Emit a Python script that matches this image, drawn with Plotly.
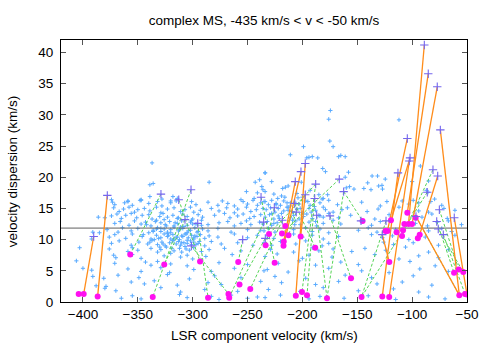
import plotly.graph_objects as go

# all fitted components (background cloud), km/s
cloud_v = [
    -373, -371, -362, -359, -355, -347, -340, -332, -328, -320, -315, -297, -286, -277, -273, -268, -262, -254, -250, -245, -241, -238, -234,
    -372, -367, -363, -358, -353, -350, -344, -339, -333, -329, -323, -317, -311, -307, -302, -299, -293, -283, -276, -269, -262, -259, -251, -247, -242, -236,
    -374, -369, -365, -361, -356, -351, -346, -340, -337, -330, -327, -323, -318, -314, -309, -305, -300, -295, -291, -280, -271, -266, -259, -254, -248, -244, -238,
    -371, -366, -358, -353, -347, -343, -338, -333, -329, -325, -321, -317, -314, -310, -305, -302, -297, -292, -286, -276, -268, -262, -256, -251, -247, -239,
    -378, -368, -364, -356, -350, -340, -336, -332, -329, -326, -323, -320, -317, -313, -309, -305, -302, -298, -295, -291, -286, -277, -265, -250, -238,
    -376, -371, -361, -355, -346, -338, -333, -329, -326, -323, -320, -318, -315, -312, -310, -307, -304, -301, -299, -296, -293, -289, -285, -277, -262, -250, -241,
    -374, -367, -356, -349, -341, -337, -332, -328, -325, -321, -318, -315, -313, -311, -308, -305, -301, -299, -295, -289, -283, -274, -259, -245,
    -376, -359, -355, -350, -338, -332, -329, -324, -317, -312, -310, -306, -303, -299, -292, -285, -271, -256,
    -372, -370, -355, -347, -326, -320, -311, -305, -300, -288, -264,
    -406, -371, -343, -338, -332, -320, -305, -276, -250,
    -400, -392, -359, -347, -329, -321, -299, -283, -262, -235,
    -391, -381, -368, -349, -323, -303, -280, -256,
    -388, -356, -344, -335, -314, -286, -274, -238,
    -380, -370, -329, -311, -289, -259,
    -365, -355, -347, -312, -305, -283, -276, -265, -250, -241,
    -337, -339, -336, -339, -374, -359, -348, -347, -328, -318, -320, -314, -301, -285, -256,
    -251, -243, -239, -237, -236, -234, -244, -241, -403, -392, -391, -385, -386, -380, -379,
    -345, -342, -339, -336, -334, -331, -329, -327, -324, -322, -320, -318, -316, -314, -312, -310, -308, -306, -304, -302,
    -300, -298, -296, -294, -292, -330, -326, -319, -313, -307, -301, -297, -335, -323, -311, -299, -317, -305, -333, -309,
    -235, -231, -228, -224, -220, -217, -214, -211, -207, -203, -197, -193, -184, -176, -168, -146, -129, -109, -103, -94, -83, -73,
    -233, -229, -225, -222, -217, -213, -209, -205, -200, -194, -188, -181, -172, -164, -159, -141, -131, -112, -94, -85, -71, -61,
    -234, -230, -226, -222, -219, -211, -208, -199, -191, -184, -176, -167, -156, -134, -121, -91, -82, -68,
    -236, -232, -228, -223, -206, -202, -194, -187, -181, -172, -165, -137, -129, -97, -86, -77, -67, -55,
    -235, -231, -225, -208, -197, -191, -184, -176, -149, -140, -132, -115, -85, -73, -64,
    -232, -226, -208, -200, -191, -181, -167, -137, -127, -118, -103, -88, -61,
    -235, -228, -220, -206, -197, -182, -176, -126, -117, -99, -76,
    -229, -208, -191, -185, -172, -155, -143, -124, -106, -85, -67,
    -234, -223, -200, -194, -173, -134, -112, -94, -76,
    -222, -203, -188, -165, -149, -102, -79,
    -232, -213, -176, -146, -121, -93, -67,
    -225, -197, -161, -137, -99,
    -219, -188, -167, -132, -109, -82,
    -231, -202, -181, -149, -117, -94,
    -234, -220, -194, -184, -162, -140, -115, -85, -70,
    -174.5, -176, -175, -172, -199, -211, -196, -194, -191, -186, -167, -165, -161, -181.5, -179, -234, -228, -234, -226, -222.5,
    -218, -215.5, -213, -204, -201, -200, -185, -181, -177, -161, -158, -157, -160, -153, -144, -140.5, -137.5, -136.5, -131.5, -130.5,
    -127.5, -127, -124.5, -123, -112, -92.5, -100, -99, -85, -87, -85.5, -79.5,
    -228, -224, -221, -216, -213, -209, -205, -202, -199, -195, -192, -189, -185, -182, -179, -226, -219, -211, -203, -196,
    -188, -181, -214, -207, -193,
]
cloud_sigma = [
    16.0, 15.6, 15.9, 16.2, 15.5, 16.3, 15.8, 16.1, 15.4, 15.9, 16.2, 15.6, 16.0, 15.5, 16.2, 15.8, 15.4, 16.1, 15.7, 16.3, 15.5, 15.9, 16.1,
    15.1, 14.5, 14.9, 15.2, 14.4, 14.8, 15.0, 14.6, 15.2, 14.3, 14.9, 15.1, 14.5, 14.8, 15.2, 14.4, 14.7, 15.0, 14.6, 15.1, 14.3, 14.9, 15.2, 14.5, 14.8, 15.0,
    13.8, 14.1, 13.4, 13.9, 14.2, 13.5, 13.9, 14.0, 13.3, 13.7, 14.2, 13.6, 13.9, 13.4, 14.1, 13.7, 13.3, 14.0, 13.6, 13.9, 14.2, 13.5, 13.8, 14.1, 13.4, 13.7, 14.0,
    12.6, 12.9, 12.3, 13.0, 12.5, 12.8, 12.2, 13.1, 12.7, 12.4, 12.9, 12.2, 12.6, 13.0, 12.3, 12.8, 12.5, 13.1, 12.4, 12.7, 12.9, 12.2, 12.6, 13.0, 12.4, 12.8,
    11.6, 11.2, 11.9, 11.4, 11.8, 11.1, 11.5, 11.9, 11.3, 11.7, 11.2, 11.6, 12.0, 11.4, 11.8, 11.1, 11.5, 11.9, 11.3, 11.7, 11.4, 11.8, 11.2, 11.6, 11.5,
    10.4, 10.8, 10.2, 10.9, 10.5, 10.1, 10.7, 10.3, 10.9, 10.5, 10.1, 10.8, 10.4, 10.0, 10.6, 10.9, 10.3, 10.7, 10.1, 10.5, 10.8, 10.2, 10.6, 10.4, 10.9, 10.3, 10.7,
    9.4, 9.8, 9.1, 9.6, 9.3, 9.9, 9.2, 9.6, 9.0, 9.5, 9.8, 9.3, 9.7, 9.1, 9.5, 9.9, 9.2, 9.6, 9.4, 9.0, 9.7, 9.3, 9.5, 9.1,
    8.5, 8.1, 8.7, 8.3, 8.6, 8.0, 8.4, 8.8, 8.2, 8.6, 8.0, 8.5, 8.3, 8.7, 8.1, 8.4, 8.6, 8.2,
    7.5, 7.1, 7.6, 7.0, 7.4, 7.8, 7.2, 7.5, 6.9, 7.3, 7.6,
    6.6, 6.2, 6.4, 5.9, 6.5, 6.1, 5.8, 6.3, 6.0,
    5.4, 5.1, 5.3, 4.9, 5.5, 4.7, 5.2, 4.9, 5.4, 5.0,
    4.1, 3.8, 4.3, 3.9, 4.4, 3.7, 4.2, 3.9,
    2.6, 3.2, 2.9, 3.4, 2.7, 3.1, 2.8, 3.3,
    2.2, 1.8, 2.3, 1.6, 2.0, 1.7,
    0.6, 1.0, 0.5, 1.2, 0.7, 0.9, 0.4, 1.1, 0.6, 0.8,
    22.3, 18.8, 19.0, 16.9, 16.4, 16.1, 16.3, 16.4, 16.5, 16.9, 16.2, 16.6, 16.1, 19.2, 16.4,
    17.7, 19.2, 19.6, 18.5, 18.0, 20.7, 16.6, 17.5, 8.7, 10.1, 11.2, 11.1, 13.6, 13.5, 2.5,
    10.8, 12.4, 9.6, 11.3, 12.9, 10.2, 11.8, 9.3, 12.2, 10.7, 11.1, 9.9, 12.7, 10.4, 11.6, 9.5, 12.1, 10.9, 11.4, 9.8,
    12.5, 10.6, 11.2, 9.7, 12.3, 8.8, 13.2, 8.6, 13.5, 8.9, 13.1, 9.2, 10.0, 11.0, 12.0, 10.3, 10.1, 9.4, 11.7, 10.5,
    16.1, 15.6, 16.3, 15.8, 15.5, 16.2, 15.9, 15.4, 16.0, 15.7, 16.2, 15.5, 15.9, 16.3, 15.6, 16.0, 15.4, 16.2, 15.7, 15.9, 16.1, 15.5,
    14.8, 15.1, 14.4, 15.0, 14.6, 15.2, 14.5, 14.9, 14.3, 15.0, 14.7, 15.2, 14.4, 14.8, 15.1, 14.5, 14.9, 15.2, 14.6, 14.4, 15.0, 14.7,
    13.6, 14.0, 13.3, 13.8, 14.2, 13.5, 13.9, 14.1, 13.4, 13.8, 14.2, 13.5, 13.9, 13.3, 14.0, 13.6, 14.1, 13.4,
    12.5, 12.9, 12.3, 12.7, 13.0, 12.4, 12.8, 12.2, 12.6, 13.1, 12.5, 12.3, 12.9, 12.6, 12.2, 12.8, 13.0, 12.4,
    11.4, 11.8, 11.2, 11.6, 11.9, 11.3, 11.7, 11.1, 11.5, 11.9, 11.2, 11.6, 11.4, 11.8, 11.3,
    10.6, 10.2, 10.9, 10.4, 10.7, 10.1, 10.5, 10.8, 10.3, 10.6, 10.0, 10.4, 10.7,
    9.5, 9.1, 9.7, 9.3, 9.8, 9.0, 9.4, 9.6, 9.2, 9.5, 9.1,
    8.4, 8.0, 8.7, 8.2, 8.5, 8.1, 8.6, 8.3, 8.8, 8.0, 8.4,
    7.3, 7.7, 7.0, 7.5, 7.2, 7.6, 6.9, 7.4, 7.1,
    6.2, 6.6, 5.9, 6.4, 6.0, 6.5, 5.8,
    5.2, 4.8, 5.4, 5.0, 4.7, 5.3, 4.9,
    4.1, 3.8, 4.3, 3.9, 4.2,
    3.1, 2.8, 3.3, 2.9, 3.2, 2.7,
    2.0, 1.7, 2.3, 1.8, 2.1, 1.6,
    0.7, 1.1, 0.5, 0.9, 0.6, 1.0, 0.4, 0.8, 0.5,
    30.7, 29.3, 25.8, 24.9, 24.9, 23.6, 23.1, 23.2, 23.3, 23.1, 23.3, 23.5, 23.3, 21.4, 20.9, 20.7, 19.3, 17.7, 17.3, 16.6,
    18.2, 18.4, 18.6, 16.7, 19.2, 16.8, 17.2, 16.6, 17.2, 20.0, 20.8, 18.5, 18.3, 18.1, 18.2, 19.1, 18.0, 20.2, 20.2, 18.6,
    18.7, 18.1, 19.7, 16.1, 29.2, 21.8, 19.3, 16.3, 19.4, 17.9, 17.6, 16.5,
    14.2, 15.6, 13.4, 16.8, 14.7, 13.1, 17.4, 15.0, 13.7, 16.1, 14.4, 15.3, 13.9, 16.5, 14.8, 12.6, 17.0, 15.9, 13.3, 14.1,
    12.9, 13.6, 15.2, 12.4, 17.9,
]

# components of the complex MS (purple crosses)
comp_v = [
    -377.8, -390.2, -328.9, -312.7, -301.5, -307.0, -295.4, -301.2, -237.7, -254.4,
    -235.3, -197.4, -201.3, -206.5, -187.9, -197.4, -188.8, -207.0, -225.6, -218.3,
    -205.6, -187.0, -174.9, -166.4, -162.4, -233.8, -88.9, -85.3, -77.1, -74.3,
    -104.4, -101.9, -102.6, -112.9, -81.0, -76.7, -86.2, -75.2, -61.6, -77.6,
    -76.2, -71.6, -127.2, -146.6, -123.8, -96.5,
]
comp_sigma = [
    17.1, 10.5, 17.3, 16.4, 18.0, 13.2, 12.6, 9.0, 16.8, 10.0,
    12.8, 22.2, 20.9, 19.3, 18.9, 17.2, 16.6, 15.8, 15.1, 13.1,
    14.4, 13.9, 13.8, 19.7, 17.7, 10.2, 41.2, 36.6, 34.5, 27.6,
    26.2, 23.1, 22.6, 20.7, 21.2, 20.2, 17.6, 14.8, 13.5, 12.9,
    11.7, 10.8, 10.8, 13.0, 13.0, 13.7,
]

# peaks of the complex MS (magenta dots)
peak_v = [
    -403.9, -399.3, -386.6, -356.9, -325.9, -336.4, -293.3, -286.0, -267.4, -266.7,
    -258.5, -257.3, -247.5, -233.5, -225.3, -230.4, -218.6, -215.6, -212.7, -217.0,
    -217.2, -201.6, -188.3, -206.0, -200.4, -195.8, -177.6, -155.7, -145.2, -146.1,
    -127.2, -120.9, -124.3, -122.5, -120.8, -119.3, -114.2, -109.2, -108.3, -107.1,
    -104.4, -103.3, -100.1, -96.8, -93.1, -94.8, -61.8, -57.5, -53.4, -57.0,
    -51.8, -50.0,
]
peak_sigma = [
    1.3, 1.3, 0.9, 7.6, 6.0, 0.8, 6.5, 0.7, 1.3, 0.7,
    6.4, 2.8, 2.1, 9.1, 6.3, 10.9, 11.0, 12.2, 10.7, 9.7,
    9.0, 10.5, 8.7, 1.0, 1.6, 1.1, 0.6, 3.8, 13.0, 0.8,
    0.9, 0.8, 11.4, 11.4, 6.4, 13.1, 11.2, 10.6, 11.5, 12.5,
    14.3, 12.5, 12.5, 13.5, 10.8, 10.2, 4.7, 5.2, 4.8, 1.1,
    1.3, 1.2,
]

# (component index, peak index)
orange_links = [
    (0, 2), (1, 1), (11, 23), (12, 20), (13, 19), (15, 21), (26, 41), (27, 40),
    (28, 42), (29, 49), (30, 33), (31, 35), (32, 31), (33, 30), (42, 34), (35, 44),
    (38, 51), (45, 49),
]
green_links = [
    (2, 3), (4, 5), (5, 4), (3, 6), (6, 7), (7, 8), (10, 9), (25, 11), (9, 10),
    (19, 12), (8, 14), (17, 22), (18, 13), (21, 26), (24, 26), (22, 27), (23, 16),
    (14, 24), (16, 25), (20, 18), (24, 28), (44, 29), (36, 29), (37, 47), (39, 46),
    (40, 48), (41, 50), (34, 37), (15, 17), (14, 15), (45, 49),
]

mean_sigma = 11.85
x_ticks = [-400, -350, -300, -250, -200, -150, -100, -50]
y_ticks = [0, 5, 10, 15, 20, 25, 30, 35, 40]

FONT = "Liberation Sans, Arial, sans-serif"


def link_xy(links):
    xs, ys = [], []
    for ci, pi in links:
        xs += [comp_v[ci], peak_v[pi], None]
        ys += [comp_sigma[ci], peak_sigma[pi], None]
    return xs, ys


fig = go.Figure()

fig.add_trace(
    go.Scatter(
        x=cloud_v,
        y=cloud_sigma,
        mode="markers",
        marker=dict(symbol="cross-thin", size=3, line=dict(width=1, color="#5aabff")),
        hoverinfo="skip",
    )
)

fig.add_trace(
    go.Scatter(
        x=[-420, -50],
        y=[mean_sigma, mean_sigma],
        mode="lines",
        line=dict(color="#606060", width=1),
        hoverinfo="skip",
    )
)

gx, gy = link_xy(green_links)
fig.add_trace(
    go.Scatter(
        x=gx,
        y=gy,
        mode="lines",
        line=dict(color="#55d455", width=1, dash="3px,2px"),
        hoverinfo="skip",
    )
)

ox, oy = link_xy(orange_links)
fig.add_trace(
    go.Scatter(
        x=ox,
        y=oy,
        mode="lines",
        line=dict(color="#ff8c1a", width=1.3),
        hoverinfo="skip",
    )
)

fig.add_trace(
    go.Scatter(
        x=peak_v,
        y=peak_sigma,
        mode="markers",
        marker=dict(symbol="circle", size=6, color="#ff10f0"),
    )
)

fig.add_trace(
    go.Scatter(
        x=comp_v,
        y=comp_sigma,
        mode="markers",
        marker=dict(symbol="cross-thin", size=6, line=dict(width=1.1, color="#7466ee")),
    )
)

fig.update_layout(
    width=491,
    height=343,
    margin=dict(l=61, r=24, t=40, b=41),
    plot_bgcolor="white",
    paper_bgcolor="white",
    showlegend=False,
    font=dict(family=FONT, size=13.5, color="black"),
    title=dict(
        text="complex MS, -435 km/s < v < -50 km/s",
        x=0.5,
        xref="paper",
        xanchor="center",
        y=1 - 20.5 / 343,
        yref="container",
        yanchor="middle",
        font=dict(size=13.5),
    ),
    annotations=[
        dict(
            text="LSR component velocity (km/s)",
            x=0.5, y=-0.126, xref="paper", yref="paper",
            xanchor="center", yanchor="middle", showarrow=False,
        ),
        dict(
            text="velocity dispersion (km/s)",
            x=-0.12, y=0.5, xref="paper", yref="paper",
            xanchor="center", yanchor="middle", textangle=-90, showarrow=False,
        ),
    ],
)

fig.update_xaxes(
    range=[-420, -50],
    tickvals=x_ticks,
    ticks="inside",
    ticklen=5,
    tickcolor="#555555",
    showline=True,
    linecolor="black",
    linewidth=1,
    mirror="ticks",
    showgrid=False,
    zeroline=False,
    automargin=False,
)

fig.update_yaxes(
    range=[0, 42],
    tickvals=y_ticks,
    ticks="inside",
    ticklen=5,
    tickcolor="#555555",
    showline=True,
    linecolor="black",
    linewidth=1,
    mirror="ticks",
    showgrid=False,
    zeroline=False,
    automargin=False,
    ticklabelstandoff=4,
)

# the page's default body margin would shift the 491x343 figure off the window
fig.write_html(
    "out.html",
    config={"displayModeBar": False},
    post_script="document.body.style.margin = '0';",
)
